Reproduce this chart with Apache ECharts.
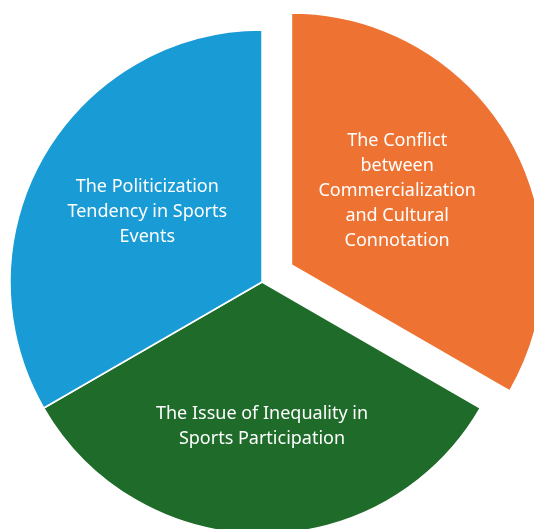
<!DOCTYPE html>
<html><head><meta charset="utf-8">
<script src="https://cdn.jsdelivr.net/npm/echarts@6/dist/echarts.min.js"></script>
<style>html,body{margin:0;padding:0;background:#fff}#c{width:534px;height:529px}</style>
</head><body><div id="c"></div>
<script>
var categories = [
  "The Conflict\nbetween\nCommercialization\nand Cultural\nConnotation",
  "The Issue of Inequality in\nSports Participation",
  "The Politicization\nTendency in Sports\nEvents"
];
var values = [1, 1, 1];
var colors = ["#EE7333", "#1E6B2A", "#199BD5"];
var labelOffsets = [[-6, -10], [0, 15], [-3, -6]];
var selectedFlags = [true, false, false];

var chart = echarts.init(document.getElementById('c'));
var data = categories.map(function (n, i) {
  return {
    name: n, value: values[i], selected: selectedFlags[i],
    itemStyle: { color: colors[i] },
    select: {
      itemStyle: { color: colors[i], borderColor: '#fff', borderWidth: 1.5 },
      label: { offset: labelOffsets[i] }
    },
    label: { offset: labelOffsets[i] }
  };
});
chart.setOption({
  animation: false,
  series: [{
    type: 'pie',
    center: [262, 282],
    radius: 252,
    startAngle: 90,
    clockwise: true,
    selectedMode: 'single',
    selectedOffset: 34,
    itemStyle: { borderColor: '#fff', borderWidth: 1.5 },
    label: {
      show: true, position: 'inside', color: '#fff',
      fontFamily: 'Noto Sans', fontSize: 18, lineHeight: 25, align: 'center'
    },
    labelLine: { show: false },
    emphasis: { disabled: true },
    data: data
  }]
});
</script></body></html>
